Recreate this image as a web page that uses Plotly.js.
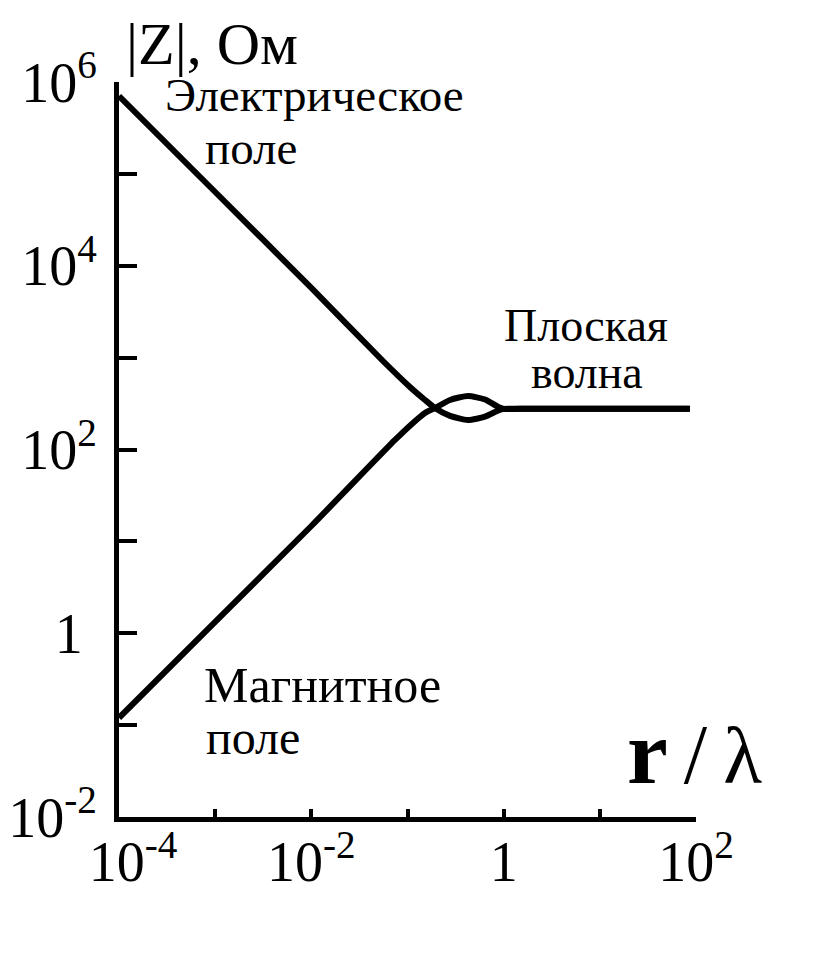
<!DOCTYPE html>
<html>
<head>
<meta charset="utf-8">
<script src="https://cdn.plot.ly/plotly-3.0.1.min.js"></script>
<style>
html,body{margin:0;padding:0;background:#fff;}
#chart{width:832px;height:960px;}
</style>
</head>
<body>
<div id="chart"></div>
<script>
// ---- data (r/lambda, |Z| in Ohm) ----
const electricX = [0.0001, 0.001, 0.01, 0.0556, 0.106, 0.152, 0.193, 0.277, 0.426, 0.640, 0.880, 1.0, 1.48, 86.5];
const electricY = [704000, 63500, 5730, 919, 479, 346, 283, 232, 209, 228, 266, 277, 277, 277];
const magneticX = [0.0001, 0.001, 0.01, 0.0741, 0.111, 0.152, 0.193, 0.277, 0.426, 0.640, 0.880, 1.0, 1.48, 86.5];
const magneticY = [0.120, 1.33, 14.7, 127, 190, 250, 283, 346, 382, 350, 290, 277, 277, 277];

const xTickVals = [1e-4, 1e-3, 1e-2, 1e-1, 1, 1e1, 1e2];
const xTickText = ['\u00a0\u00a010<sup>-4</sup>', '', '10<sup>-2</sup>', '', '1', '', '10<sup>2</sup>'];
const yTickVals = [1e-2, 1e-1, 1, 1e1, 1e2, 1e3, 1e4, 1e5, 1e6];
const yTickText = ['10<sup>-2</sup>', '', '1\u00a0', '', '10<sup>2</sup>', '', '10<sup>4</sup>', '', '10<sup>6</sup>'];

const yTitle = '|Z|, Ом';
const xTitle = '<b><span style="font-size:92px">r</span></b>\u2009<span style="font-size:84px">/</span>\u2009<span style="font-size:80px">λ</span>';
const labelElectric = ['Электрическое', 'поле'];
const labelMagnetic = ['Магнитное', 'поле'];
const labelPlane = ['Плоская', 'волна'];

// ---- layout geometry (pixels) ----
const W = 832, H = 960;
const M = {l: 119, r: 136, t: 82, b: 143};
const PW = W - M.l - M.r, PH = H - M.t - M.b;
const px = v => (v - M.l) / PW;
const py = v => (H - M.b - v) / PH;

const FONT = 'Liberation Serif, Times New Roman, serif';

function ann(text, x, y, xanchor, size) {
  return {text: text, xref: 'paper', yref: 'paper', x: px(x), y: py(y),
          xanchor: xanchor, yanchor: 'middle', showarrow: false,
          font: {family: FONT, size: size, color: '#000'}};
}

const traces = [
  {x: electricX, y: electricY, mode: 'lines', type: 'scatter',
   line: {color: '#000', width: 6, shape: 'spline', smoothing: 0.6}, hoverinfo: 'skip'},
  {x: magneticX, y: magneticY, mode: 'lines', type: 'scatter',
   line: {color: '#000', width: 6, shape: 'spline', smoothing: 0.6}, hoverinfo: 'skip'}
];

const layout = {
  width: W, height: H,
  margin: M,
  paper_bgcolor: '#fff', plot_bgcolor: '#fff',
  showlegend: false,
  font: {family: FONT, color: '#000'},
  xaxis: {
    type: 'log', range: [-4, 2],
    showgrid: false, zeroline: false,
    showline: true, linecolor: '#000', linewidth: 5,
    ticks: 'inside', ticklen: 8, tickwidth: 4, tickcolor: '#000',
    tickvals: xTickVals, ticktext: xTickText,
    tickfont: {family: FONT, size: 56, color: '#000'},
    ticklabelstandoff: -8
  },
  yaxis: {
    type: 'log', range: [-2, 6],
    showgrid: false, zeroline: false,
    showline: true, linecolor: '#000', linewidth: 5,
    ticks: 'inside', ticklen: 18, tickwidth: 4, tickcolor: '#000',
    tickvals: yTickVals, ticktext: yTickText,
    tickfont: {family: FONT, size: 56, color: '#000'},
    ticklabelstandoff: 6
  },
  annotations: [
    ann(yTitle, 212, 44, 'center', 60),
    ann(xTitle, 694, 752, 'center', 80),
    ann(labelElectric[0], 163, 95, 'left', 47),
    ann(labelElectric[1], 203, 148, 'left', 47),
    ann(labelPlane[0], 586, 325, 'center', 46),
    ann(labelPlane[1], 587, 372, 'center', 46),
    ann(labelMagnetic[0], 202, 685, 'left', 50),
    ann(labelMagnetic[1], 204, 737, 'left', 48)
  ]
};

Plotly.newPlot('chart', traces, layout, {staticPlot: true, displayModeBar: false});
</script>
</body>
</html>
